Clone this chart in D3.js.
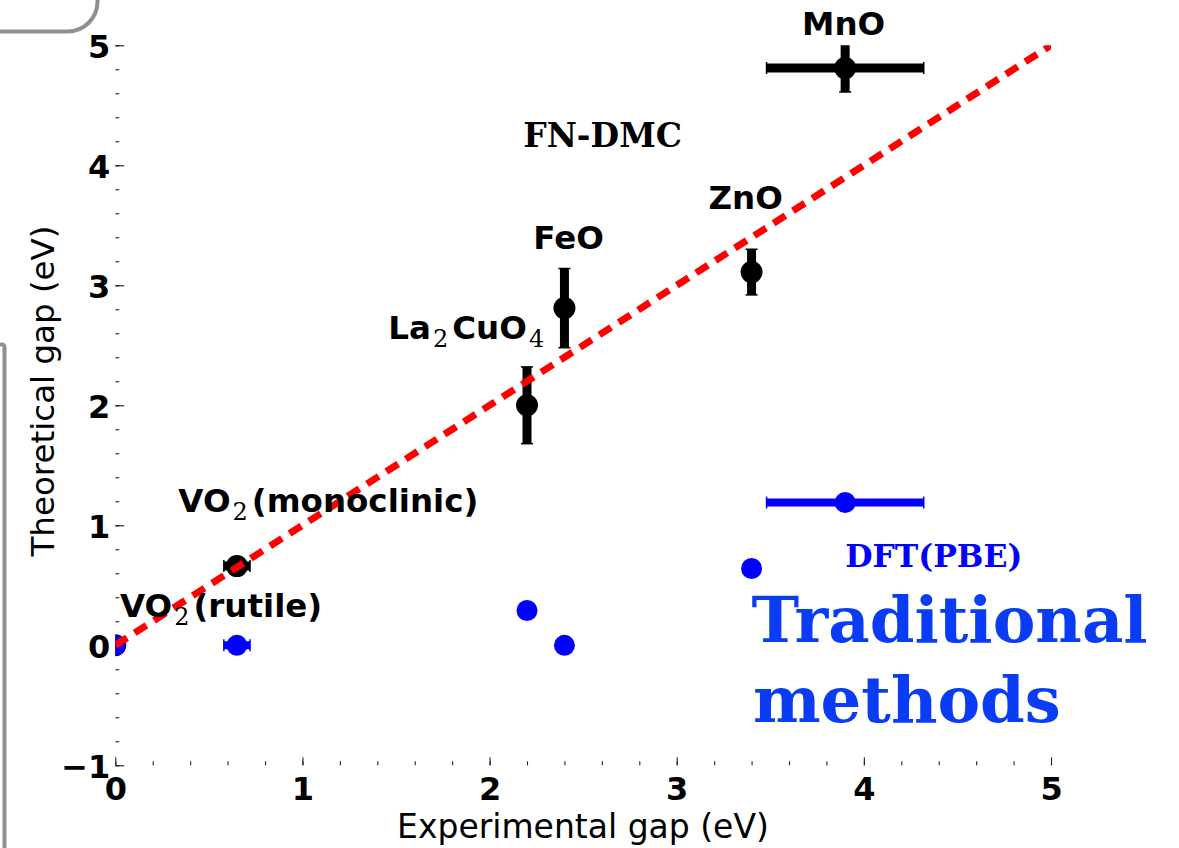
<!DOCTYPE html>
<html>
<head>
<meta charset="utf-8">
<script src="https://cdn.jsdelivr.net/npm/d3@7"></script>
<style>
  html, body { margin: 0; padding: 0; background: #fff; }
  svg { display: block; }
</style>
</head>
<body>
<div id="chart"></div>
<script>
// gaps in eV, one entry per material
const materials = ["VO2 (rutile)", "VO2 (monoclinic)", "La2CuO4", "FeO", "ZnO", "MnO"];
const expGap = [0, 0.65, 2.2, 2.4, 3.4, 3.9];
const expErr = [0, 0.07, 0, 0, 0, 0.42];
const dmcGap = [0, 0.66, 2.0, 2.81, 3.11, 4.81];
const dmcErr = [0, 0, 0.32, 0.33, 0.19, 0.2];
const pbeGap = [0, 0, 0.29, 0, 0.64, 1.19];

const xTicks = [0, 1, 2, 3, 4, 5];
const yTicks = [-1, 0, 1, 2, 3, 4, 5];

// text labels: parts (text, isSub) and anchor in data units
const labelParts = [
  [["MnO", false]],
  [["ZnO", false]],
  [["FeO", false]],
  [["La", false], ["2", true], ["CuO", false], ["4", true]],
  [["VO", false], ["2", true], ["(monoclinic)", false]],
  [["VO", false], ["2", true], ["(rutile)", false]]
];
const labelX = [3.67, 3.17, 2.234, 1.459, 0.337, 0.025];
const labelY = [5.086, 3.64, 3.30, 2.55, 1.113, 0.238];

const width = 1179, height = 848;
const x = d3.scaleLinear().domain([0, 5]).range([115.3, 1051]);
const y = d3.scaleLinear().domain([-1, 5]).range([765.3, 45.3]);

const svg = d3.select("#chart").append("svg")
  .attr("width", width)
  .attr("height", height);

// slide frame fragments
svg.append("path")
  .attr("d", "M0,31.5 H67.5 A30,30 0 0 0 97.5,1.5 V-2")
  .attr("fill", "none").attr("stroke", "#8c8f93").attr("stroke-width", 4);
svg.append("path")
  .attr("d", "M-2,344.5 H1.5 Q4.5,344.5 4.5,347.5 V850")
  .attr("fill", "none").attr("stroke", "#8c8f93").attr("stroke-width", 4);

svg.append("clipPath").attr("id", "plot")
  .append("rect")
  .attr("x", x(0)).attr("y", y(5))
  .attr("width", x(5) - x(0)).attr("height", y(-1) - y(5));

const fmt = d => d < 0 ? "\u2212" + Math.abs(d) : String(d);
const tickFont = g => g.selectAll("text")
  .attr("fill", "#000")
  .style("font-family", "'DejaVu Sans', sans-serif")
  .style("font-weight", "bold")
  .style("font-size", "32px");

// minor ticks
svg.append("g")
  .attr("transform", `translate(0,${y(-1)})`)
  .call(d3.axisBottom(x).tickValues(d3.range(0, 5.001, 0.2)).tickSize(-4).tickFormat(""))
  .call(g => g.select(".domain").remove());
svg.append("g")
  .attr("transform", `translate(${x(0)},0)`)
  .call(d3.axisLeft(y).tickValues(d3.range(-1, 5.001, 0.2)).tickSize(-4).tickFormat(""))
  .call(g => g.select(".domain").remove());

// major ticks
svg.append("g")
  .attr("transform", `translate(0,${y(-1)})`)
  .call(d3.axisBottom(x).tickValues(xTicks).tickSize(-8).tickPadding(12).tickFormat(fmt))
  .call(g => g.select(".domain").remove())
  .call(tickFont);
svg.append("g")
  .attr("transform", `translate(${x(0)},0)`)
  .call(d3.axisLeft(y).tickValues(yTicks).tickSize(-9).tickPadding(5).tickFormat(fmt))
  .call(g => g.select(".domain").remove())
  .call(tickFont)
  .call(g => g.selectAll("text").attr("dy", "0.38em"));
svg.selectAll(".tick line").attr("stroke", "#222").attr("stroke-width", 1.1);

// axis titles
svg.append("text")
  .attr("x", 583).attr("y", 838)
  .attr("text-anchor", "middle")
  .style("font-family", "'DejaVu Sans', sans-serif")
  .style("font-size", "33px")
  .text("Experimental gap (eV)");
svg.append("text")
  .attr("transform", "translate(54,391) rotate(-90)")
  .attr("text-anchor", "middle")
  .style("font-family", "'DejaVu Sans', sans-serif")
  .style("font-size", "32.5px")
  .text("Theoretical gap (eV)");

const plot = svg.append("g").attr("clip-path", "url(#plot)");
const idx = d3.range(materials.length);

function errorBars(g, color, cx, cy, ex, ey, w) {
  idx.filter(i => ex[i] > 0).forEach(i => {
    g.append("line")
      .attr("x1", x(cx[i] - ex[i])).attr("x2", x(cx[i] + ex[i]))
      .attr("y1", y(cy[i])).attr("y2", y(cy[i]))
      .attr("stroke", color).attr("stroke-width", w);
    [cx[i] - ex[i], cx[i] + ex[i]].forEach(v => g.append("line")
      .attr("x1", x(v)).attr("x2", x(v))
      .attr("y1", y(cy[i]) - 6).attr("y2", y(cy[i]) + 6)
      .attr("stroke", color).attr("stroke-width", 1.5));
  });
  idx.filter(i => ey[i] > 0).forEach(i => {
    g.append("line")
      .attr("x1", x(cx[i])).attr("x2", x(cx[i]))
      .attr("y1", y(cy[i] - ey[i])).attr("y2", y(cy[i] + ey[i]))
      .attr("stroke", color).attr("stroke-width", w);
    [cy[i] - ey[i], cy[i] + ey[i]].forEach(v => g.append("line")
      .attr("x1", x(cx[i]) - 6).attr("x2", x(cx[i]) + 6)
      .attr("y1", y(v)).attr("y2", y(v))
      .attr("stroke", color).attr("stroke-width", 1.5));
  });
}

// FN-DMC points
errorBars(plot, "#000", expGap, dmcGap, expErr, dmcErr, 9);
plot.selectAll("circle.dmc")
  .data(idx)
  .join("circle")
  .attr("class", "dmc")
  .attr("cx", i => x(expGap[i]))
  .attr("cy", i => y(dmcGap[i]))
  .attr("r", 11)
  .attr("fill", "#000");

// DFT(PBE) points
const zeros = idx.map(() => 0);
errorBars(plot, "#0000ff", expGap, pbeGap, expErr, zeros, 8);
plot.selectAll("circle.pbe")
  .data(idx)
  .join("circle")
  .attr("class", "pbe")
  .attr("cx", i => x(expGap[i]))
  .attr("cy", i => y(pbeGap[i]))
  .attr("r", 10.5)
  .attr("fill", "#0000ff");

// y = x reference line
plot.append("line")
  .attr("x1", x(0)).attr("y1", y(0))
  .attr("x2", x(5)).attr("y2", y(5))
  .attr("stroke", "#ff0000")
  .attr("stroke-width", 7)
  .attr("stroke-dasharray", "14,9");

// material labels
labelParts.forEach((parts, k) => {
  const t = svg.append("text")
    .attr("x", x(labelX[k])).attr("y", y(labelY[k]))
    .style("font-family", "'DejaVu Sans', sans-serif")
    .style("font-weight", "bold")
    .style("font-size", "32.5px");
  parts.forEach(([s, sub], j) => {
    const ts = t.append("tspan").text(s);
    if (sub) {
      ts.attr("dy", 8).attr("dx", 2)
        .style("font-family", "'DejaVu Serif', serif")
        .style("font-weight", "normal")
        .style("font-size", "24px");
    } else if (j > 0 && parts[j - 1][1]) {
      ts.attr("dy", -8).attr("dx", 4);
    }
  });
});

svg.append("text")
  .attr("x", x(2.18)).attr("y", y(4.15))
  .style("font-family", "'DejaVu Serif', serif")
  .style("font-weight", "bold")
  .style("font-size", "33px")
  .text("FN-DMC");

svg.append("text")
  .attr("x", x(3.9)).attr("y", y(0.65))
  .attr("fill", "#0000ff")
  .style("font-family", "'DejaVu Serif', serif")
  .style("font-weight", "bold")
  .style("font-size", "31.5px")
  .text("DFT(PBE)");

const trad = svg.append("g")
  .attr("fill", "#0a3cf5")
  .style("font-family", "'DejaVu Serif', serif")
  .style("font-weight", "bold")
  .style("font-size", "64px");
trad.append("text").attr("x", x(3.4)).attr("y", y(0.03)).text("Traditional");
trad.append("text").attr("x", x(3.407)).attr("y", y(-0.637)).text("methods");
</script>
</body>
</html>
